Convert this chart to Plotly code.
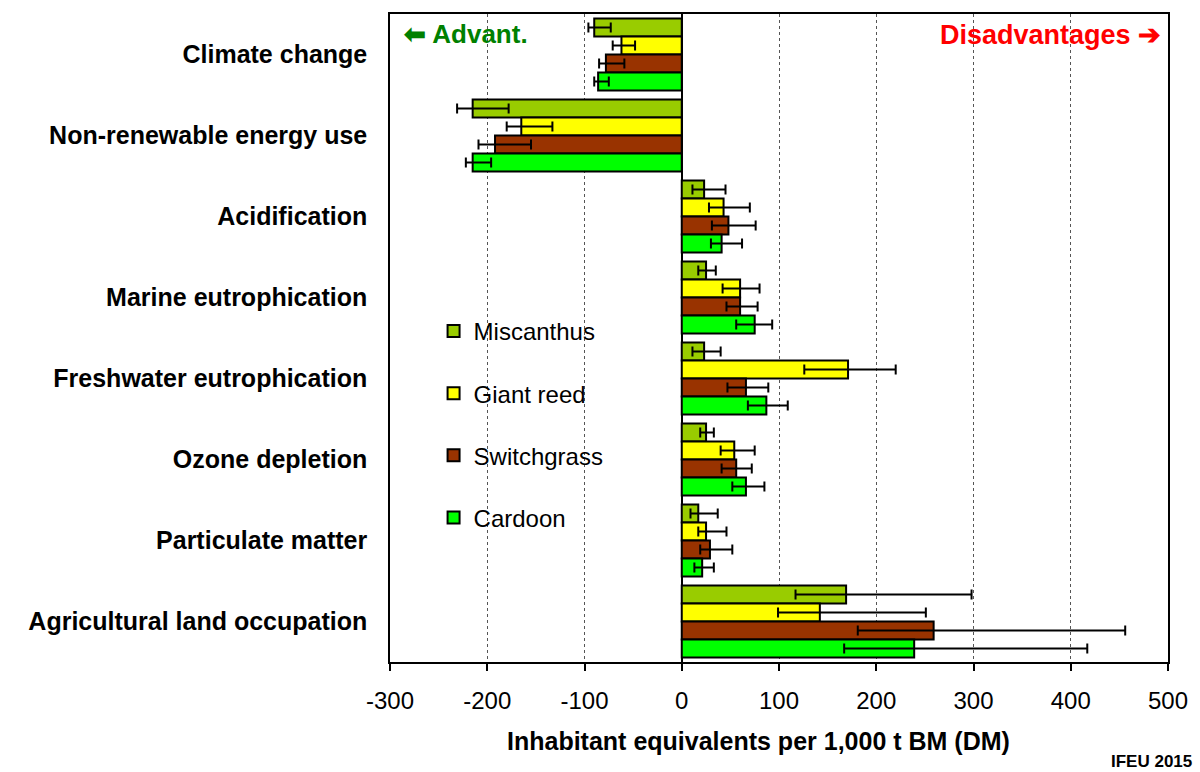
import plotly.graph_objects as go

categories = ["Climate change", "Non-renewable energy use", "Acidification",
              "Marine eutrophication", "Freshwater eutrophication", "Ozone depletion",
              "Particulate matter", "Agricultural land occupation"]

series_names = ["Miscanthus", "Giant reed", "Switchgrass", "Cardoon"]
series_colors = ["#99CC00", "#FFFF00", "#993300", "#00FF00"]

miscanthus = [-90, -215, 23, 25, 23, 25, 17, 169]
miscanthus_lo = [-96, -231, 11, 17, 11, 19, 9, 117]
miscanthus_hi = [-73, -178, 45, 35, 40, 33, 37, 298]

giant_reed = [-62, -165, 43, 60, 171, 54, 25, 142]
giant_reed_lo = [-71, -180, 28, 42, 126, 40, 17, 99]
giant_reed_hi = [-48, -133, 70, 80, 220, 75, 46, 251]

switchgrass = [-78, -192, 48, 60, 66, 56, 29, 259]
switchgrass_lo = [-85, -209, 31, 46, 47, 41, 19, 181]
switchgrass_hi = [-59, -155, 76, 78, 89, 72, 52, 456]

cardoon = [-86, -215, 41, 75, 87, 66, 21, 239]
cardoon_lo = [-90, -222, 30, 56, 68, 52, 13, 167]
cardoon_hi = [-75, -196, 62, 93, 109, 85, 33, 417]

x_ticks = [-300, -200, -100, 0, 100, 200, 300, 400, 500]

values = [miscanthus, giant_reed, switchgrass, cardoon]
lows = [miscanthus_lo, giant_reed_lo, switchgrass_lo, cardoon_lo]
highs = [miscanthus_hi, giant_reed_hi, switchgrass_hi, cardoon_hi]

FONT = "Liberation Sans, Arial, sans-serif"

fig = go.Figure()
for name, color, v, lo, hi in zip(series_names, series_colors, values, lows, highs):
    fig.add_trace(go.Bar(
        y=categories, x=v, name=name, orientation="h",
        legendgroup=name,
        marker=dict(color=color, line=dict(color="black", width=2)),
        error_x=dict(type="data", symmetric=False,
                     array=[h - a for h, a in zip(hi, v)],
                     arrayminus=[a - l for a, l in zip(v, lo)],
                     color="black", thickness=2, width=5),
    ))

fig.update_layout(
    width=1200, height=772,
    margin=dict(l=390, r=30, t=13, b=110),
    paper_bgcolor="white", plot_bgcolor="white",
    barmode="group", bargap=0.11, bargroupgap=0,
    font=dict(family=FONT, color="black"),
    legend=dict(x=0.056, y=0.545, xanchor="left", yanchor="top",
                font=dict(size=24, family=FONT), bgcolor="rgba(0,0,0,0)",
                tracegroupgap=28, traceorder="grouped"),
    xaxis=dict(range=[-300, 500], tickvals=x_ticks, ticktext=[str(t) for t in x_ticks],
               showgrid=True, gridcolor="#555555", griddash="dot", gridwidth=1,
               zeroline=True, zerolinecolor="black", zerolinewidth=2,
               showline=True, linecolor="black", linewidth=2, mirror=True,
               ticks="outside", ticklen=7, tickwidth=2, tickcolor="black",
               ticklabelstandoff=9,
               tickfont=dict(size=24, family=FONT)),
    yaxis=dict(autorange="reversed", showgrid=False,
               showline=True, linecolor="black", linewidth=1.5, mirror=True,
               ticks="", ticklabelstandoff=16,
               tickfont=dict(size=25, family=FONT, weight="bold")),
    annotations=[
        dict(text="<b>Inhabitant equivalents per 1,000 t BM (DM)</b>", xref="paper", yref="paper",
             x=0.474, y=-0.122, xanchor="center", yanchor="middle", showarrow=False,
             font=dict(size=25, color="black", family=FONT)),
        dict(text="<b>⬅ Advant.</b>", xref="paper", yref="paper", x=0.016, y=0.969,
             xanchor="left", yanchor="middle", showarrow=False,
             font=dict(size=26, color="#008000", family=FONT)),
        dict(text="<b>Disadvantages ➔</b>", xref="paper", yref="paper", x=0.994, y=0.968,
             xanchor="right", yanchor="middle", showarrow=False,
             font=dict(size=27, color="#FF0000", family=FONT)),
        dict(text="<b>IFEU 2015</b>", xref="paper", yref="paper", x=1.034, y=-0.154,
             xanchor="right", yanchor="middle", showarrow=False,
             font=dict(size=17, color="black", family=FONT)),
    ],
)

fig.write_html("out.html")
